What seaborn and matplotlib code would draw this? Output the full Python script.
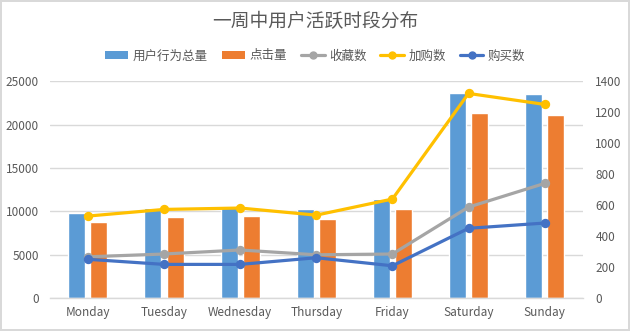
import numpy as np
import pandas as pd
import matplotlib
matplotlib.use("Agg")
import matplotlib.pyplot as plt
from matplotlib.patches import Patch
from matplotlib.lines import Line2D
import seaborn as sns

days = ["Monday", "Tuesday", "Wednesday", "Thursday", "Friday", "Saturday", "Sunday"]
total_actions = [9840, 10380, 10500, 10270, 11420, 23670, 23560]   # 用户行为总量
clicks = [8765, 9340, 9450, 9110, 10270, 21280, 21050]             # 点击量
favorites = [266, 284, 310, 279, 284, 587, 740]                    # 收藏数
add_to_cart = [529, 572, 581, 535, 639, 1321, 1250]                # 加购数
purchases = [250, 217, 217, 260, 208, 450, 484]                    # 购买数

bar_names = ["用户行为总量", "点击量"]
line_names = ["收藏数", "加购数", "购买数"]
bar_colors = ["#5B9BD5", "#ED7D31"]
line_colors = ["#A5A5A5", "#FFC000", "#4472C4"]

sns.set_theme(style="white")
plt.rcParams["font.family"] = ["Noto Sans CJK SC", "DejaVu Sans"]
text_color = "#595959"

bars_df = pd.DataFrame({
    "day": days * 2,
    "value": total_actions + clicks,
    "series": [bar_names[0]] * len(days) + [bar_names[1]] * len(days),
})
lines_df = pd.DataFrame({
    "day": days * 3,
    "value": favorites + add_to_cart + purchases,
    "series": sum([[n] * len(days) for n in line_names], []),
})

fig = plt.figure(figsize=(6.3, 3.31), dpi=100)
fig.patch.set_facecolor("white")
fig.patch.set_edgecolor("#D9D9D9")
fig.patch.set_linewidth(1.5)
ax = fig.add_axes([0.079, 0.0997, 0.846, 0.655])

sns.barplot(data=bars_df, x="day", y="value", hue="series", order=days,
            hue_order=bar_names, palette=bar_colors, width=0.58, gap=0.23,
            saturation=1, ax=ax, legend=False)
ax.set_ylim(0, 25000)
ax.set_yticks(np.arange(0, 25001, 5000))
ax.yaxis.grid(True, color="#D9D9D9", linewidth=1)
ax.set_axisbelow(True)
for s in ["top", "right", "left"]:
    ax.spines[s].set_visible(False)
ax.spines["bottom"].set_color("#D9D9D9")
ax.spines["bottom"].set_linewidth(1)
ax.set_xlabel("")
ax.set_ylabel("")
ax.tick_params(axis="both", length=0, labelsize=8.5, colors=text_color)
ax.tick_params(axis="x", pad=6)
ax.tick_params(axis="y", pad=8)

ax2 = ax.twinx()
sns.pointplot(data=lines_df, x="day", y="value", hue="series", order=days,
              hue_order=line_names, palette=line_colors, markers="o",
              markersize=5, linewidth=2.3, dodge=False, ax=ax2, legend=False)
ax2.set_ylim(0, 1400)
ax2.set_yticks(np.arange(0, 1401, 200))
for s in ["top", "right", "left", "bottom"]:
    ax2.spines[s].set_visible(False)
ax2.set_ylabel("")
ax2.tick_params(axis="y", length=0, labelsize=8.5, colors=text_color, pad=9)
ax2.set_xlim(ax.get_xlim())

fig.text(0.5, 0.934, "一周中用户活跃时段分布", ha="center", va="center",
         fontsize=13.5, color=text_color)

handles = [Patch(facecolor=c, edgecolor="none") for c in bar_colors] + [
    Line2D([0], [0], color=c, linewidth=2.3, marker="o", markersize=5)
    for c in line_colors]
fig.legend(handles, bar_names + line_names, loc="center", ncol=5,
           bbox_to_anchor=(0.5, 0.831), frameon=False, fontsize=9,
           labelcolor=text_color, handlelength=1.9, handleheight=0.6,
           handletextpad=0.35, columnspacing=1.1)

fig.savefig("out.png", dpi=100, facecolor=fig.get_facecolor(),
            edgecolor=fig.get_edgecolor())
